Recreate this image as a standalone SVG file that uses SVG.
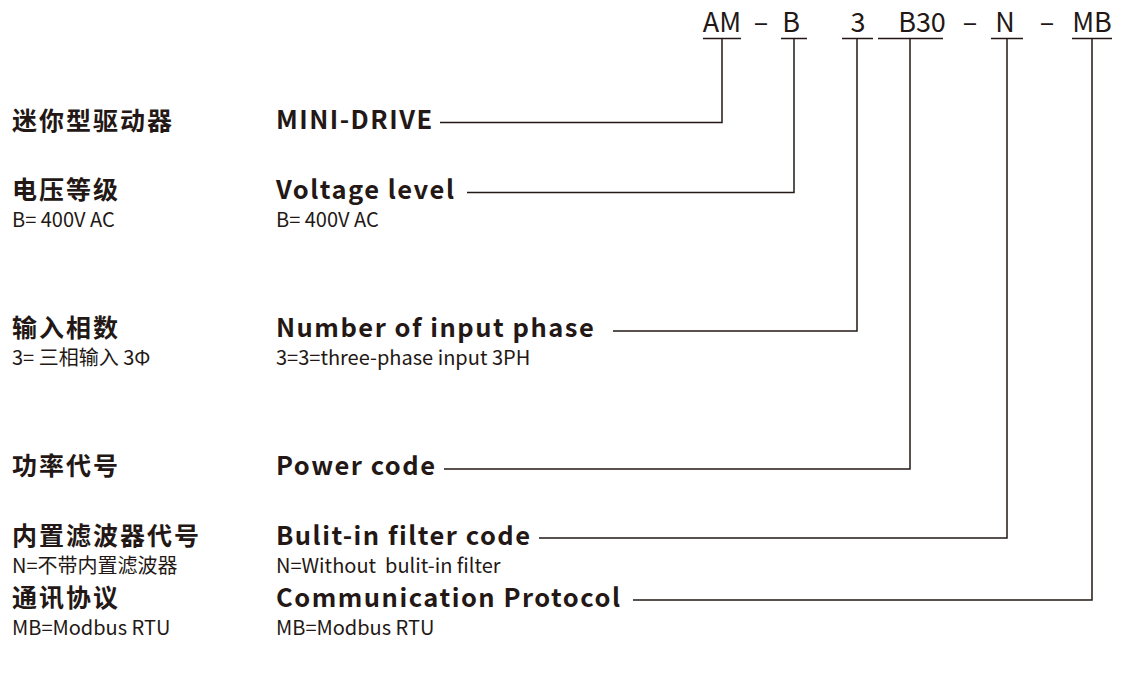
<svg xmlns="http://www.w3.org/2000/svg" width="1126" height="685" viewBox="0 0 1126 685">
<style>
  text { fill: #231815; font-family: "Noto Sans CJK SC", "Noto Sans", sans-serif; }
  .code { font-size: 27px; font-weight: 400; text-anchor: middle; }
  .cn { font-size: 25px; font-weight: 700; letter-spacing: 2px; }
  .en { font-size: 25.5px; font-weight: 700; letter-spacing: 1.5px; }
  .sub { font-size: 20px; font-weight: 400; }
  .pre { white-space: pre; }
  .ln { fill: none; stroke: #231815; stroke-width: 1.5; }
</style>
<rect width="1126" height="685" fill="#ffffff"/>
<g id="code">
  <text class="code" x="722" y="32">AM</text>
  <text class="code" x="761" y="32">–</text>
  <text class="code" x="791" y="32">B</text>
  <text class="code" x="858" y="32">3</text>
  <text class="code" x="922" y="32">B30</text>
  <text class="code" x="970" y="32">–</text>
  <text class="code" x="1005" y="32">N</text>
  <text class="code" x="1047" y="32">–</text>
  <text class="code" x="1092" y="32">MB</text>
</g>
<g id="connectors">
  <path class="ln" d="M703 38.5H741M781 38.5H807M842 38.5H873M878 38.5H943M991 38.5H1023M1072 38.5H1112"/>
  <polyline class="ln" points="440,122.5 722,122.5 722,38.5"/>
  <polyline class="ln" points="467,192.5 794,192.5 794,38.5"/>
  <polyline class="ln" points="613,331 857,331 857,38.5"/>
  <polyline class="ln" points="444,469 910,469 910,38.5"/>
  <polyline class="ln" points="539,538 1007,538 1007,38.5"/>
  <polyline class="ln" points="633,600 1092,600 1092,38.5"/>
</g>
<g id="mini">
  <text class="cn" x="12" y="130">迷你型驱动器</text>
  <text class="en" x="276" y="129">MINI-DRIVE</text>
</g>
<g id="voltage">
  <text class="cn" x="12" y="199">电压等级</text>
  <text class="sub" x="12" y="226.5">B= 400V AC</text>
  <text class="en" x="276" y="199">Voltage level</text>
  <text class="sub" x="276" y="226.5">B= 400V AC</text>
</g>
<g id="phase">
  <text class="cn" x="12" y="337">输入相数</text>
  <text class="sub" x="12" y="364.5">3= 三相输入 3Φ</text>
  <text class="en" x="276" y="337">Number of input phase</text>
  <text class="sub" x="276" y="364.5">3=3=three-phase input 3PH</text>
</g>
<g id="power">
  <text class="cn" x="12" y="475">功率代号</text>
  <text class="en" x="276" y="475">Power code</text>
</g>
<g id="filter">
  <text class="cn" x="12" y="545">内置滤波器代号</text>
  <text class="sub" x="12" y="572.5">N=不带内置滤波器</text>
  <text class="en" x="276" y="545">Bulit-in filter code</text>
  <text class="sub pre" x="276" y="572.5" xml:space="preserve">N=Without  bulit-in filter</text>
</g>
<g id="comm">
  <text class="cn" x="12" y="607">通讯协议</text>
  <text class="sub" x="12" y="634.5">MB=Modbus RTU</text>
  <text class="en" x="276" y="607">Communication Protocol</text>
  <text class="sub" x="276" y="634.5">MB=Modbus RTU</text>
</g>
</svg>
